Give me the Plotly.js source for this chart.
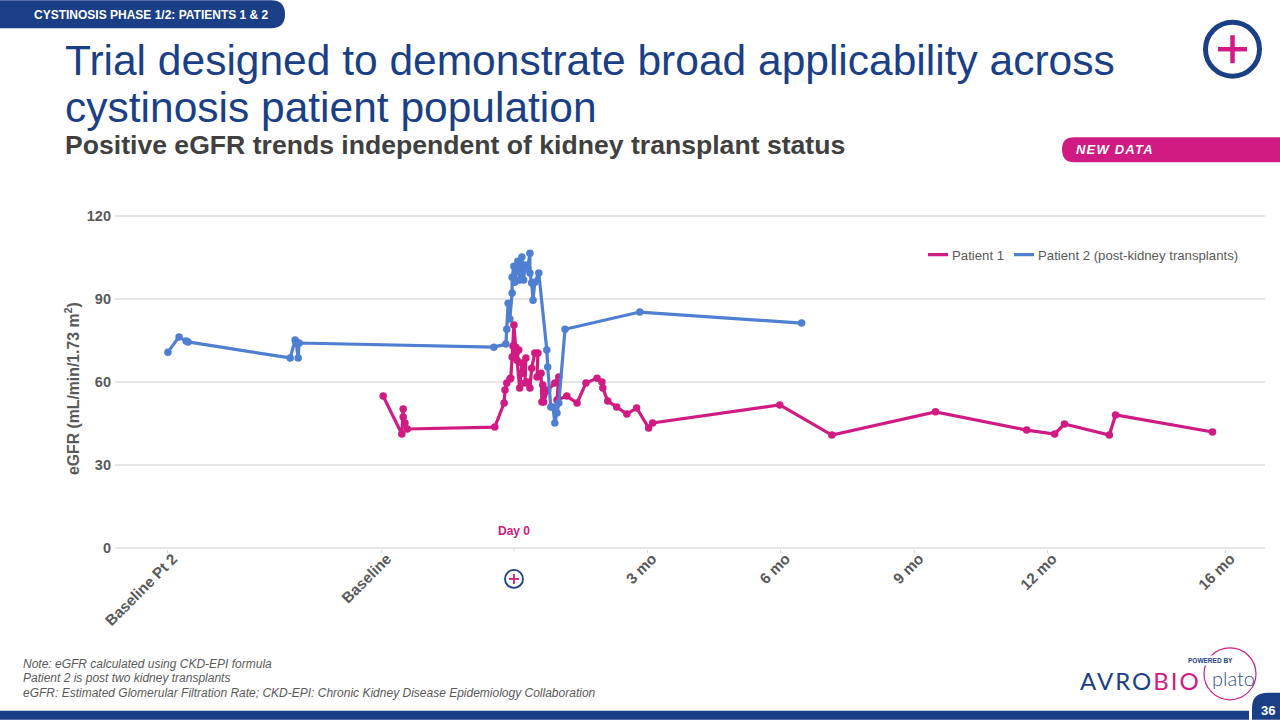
<!DOCTYPE html>
<html><head><meta charset="utf-8">
<script src="https://cdn.plot.ly/plotly-3.0.1.min.js"></script>
<style>html,body{margin:0;padding:0;background:#fff;overflow:hidden}#c{width:1280px;height:720px}</style>
</head><body><div id="c"></div>
<script>
const tickValues=[-7.78,-2.97,3,6,9,12,16];
const tickLabels=['Baseline Pt 2','Baseline','3 mo','6 mo','9 mo','12 mo','16 mo'];
const p1Months=[-2.94,-2.52,-2.49,-2.49,-2.45,-2.40,-0.43,-0.22,-0.20,-0.16,-0.09,-0.07,-0.04,-0.02,0,0.04,0.02,0.11,0.07,0.13,0.18,0.20,0.27,0.25,0.31,0.36,0.40,0.47,0.54,0.52,0.61,0.63,0.65,0.67,0.76,0.92,1.01,0.97,1.19,1.42,1.62,1.87,1.98,2.00,2.11,2.31,2.54,2.76,3.03,3.12,5.98,7.15,9.48,11.53,12.16,12.38,13.39,13.53,15.71];
const p1Egfr=[54.9,41.2,50.2,47.3,45.2,43.0,43.7,52.4,57.1,59.6,61.1,61.4,69,73,80.6,72.6,69,71.6,67.9,57.8,66.9,63.2,68.7,59.6,60,57.8,65,70.5,70.5,61.8,63.2,52.8,58.9,52.8,57.1,59.6,61.8,53.5,54.9,52.4,59.6,61.4,60,57.8,53.1,51,48.4,50.6,43.4,45.2,51.7,40.8,49.2,42.6,41.2,44.8,40.8,48.1,41.9];
const p2Months=[-7.78,-7.53,-7.37,-7.33,-5.03,-4.92,-4.90,-4.85,-4.83,-0.45,-0.18,-0.16,-0.13,-0.09,-0.04,-0.04,0,0.02,0.09,0.13,0.18,0.22,0.25,0.31,0.36,0.36,0.40,0.43,0.47,0.56,0.74,0.76,0.83,0.88,0.92,0.97,1.01,1.15,2.83,6.47];
const p2Egfr=[70.8,76.3,74.8,74.5,68.7,75.2,74.5,68.7,74.1,72.6,73.7,79.1,88.5,82.8,92.2,97.9,101.9,96.1,103.7,96.9,105.2,96.9,102.3,101.2,106.6,99.4,95.8,89.6,96.1,99.4,71.6,65.4,51,51,45.2,48.8,52.4,79.1,85.3,81.3];
const pink='#CF1B82',blue='#4F7FD0',navy='#1B3F86',grey='#595959',font='"Liberation Sans",Arial,sans-serif';
const L=115,T=214.9,W=1150,H=334.2;
const px=x=>(x-L)/W, py=y=>(T+H-y)/H;
function txt(text,x,y,size,color,o){return Object.assign({text,x:px(x),y:py(y),xref:'paper',yref:'paper',xanchor:'left',yanchor:'middle',showarrow:false,align:'left',font:{family:font,size,color}},o||{});}
function path(d,fill,line,w){
  const s=d.replace(/(-?[\d.]+),(-?[\d.]+)/g,(m,a,b)=>px(+a).toFixed(5)+','+py(+b).toFixed(5));
  return {type:'path',xref:'paper',yref:'paper',path:s,fillcolor:fill||'rgba(0,0,0,0)',line:{color:line||'rgba(0,0,0,0)',width:w||0},layer:'above'};
}
function circ(cx,cy,r,line,w,fill){return {type:'circle',xref:'paper',yref:'paper',x0:px(cx-r),x1:px(cx+r),y0:py(cy+r),y1:py(cy-r),line:{color:line,width:w},fillcolor:fill||'rgba(0,0,0,0)',layer:'above'};}
function seg(a,b,c,d,col,w){return {type:'line',xref:'paper',yref:'paper',x0:px(a),y0:py(b),x1:px(c),y1:py(d),line:{color:col,width:w},layer:'above'};}
const shapes=[
 path('M 0,0 L 271,0 Q 285,0 285,14 Q 285,28 271,28 L 0,28 Z',navy),
 path('M 1280,137 L 1074,137 Q 1062,137 1062,149 Q 1062,162 1074,162 L 1280,162 Z',pink),
 circ(1232.5,49,27,navy,5), seg(1218,49,1247,49,pink,4.5), seg(1232.5,35,1232.5,63,pink,4.5),
 circ(514,579,9,navy,1.8), seg(509,579,519,579,pink,1.8), seg(514,574,514,584,pink,1.8),
 seg(514,549,514,551.5,'#d9d9d9',1),
 path('M 0,711 L 1249,711 L 1249,720 L 0,720 Z',navy),
 path('M 1252,720 L 1252,708 Q 1252,693 1268,693 L 1280,693 L 1280,720 Z',navy),
 circ(1230,674,26,pink,1.2),
];
const annotations=[
 txt('CYSTINOSIS PHASE 1/2: PATIENTS 1 &amp; 2',32,14.5,12,'#fff',{font:{family:font,size:12,color:'#fff',weight:700}}),
 txt('cystinosis patient population',63,107,42.5,navy),
 txt('<b>Positive eGFR trends independent of kidney transplant status</b>',63,145,26.6,'#404040'),
 txt('<b><i><span style="letter-spacing:1.2px">NEW DATA</span></i></b>',1074,149,13,'#fff'),
 txt('<b>Day 0</b>',514,531,12,pink,{xanchor:'center'}),
 txt('<i>Note: eGFR calculated using CKD-EPI formula</i>',21,664,12,grey),
 txt('<i>Patient 2 is post two kidney transplants</i>',21,678.5,12,grey),
 txt('<i>eGFR: Estimated Glomerular Filtration Rate; CKD-EPI: Chronic Kidney Disease Epidemiology Collaboration</i>',21,693,12,grey),
 txt('<span style="letter-spacing:2px">AVRO<span style="color:#CF1B82">BIO</span></span>',1078,681,24,navy,{font:{family:'Lato,'+font,size:24,color:navy}}),
 txt('<b>POWERED BY</b>',1186,661,6.5,navy,{bgcolor:'#fff'}),
 txt('plato',1210,678,20,'#2c4f8f',{font:{family:'Lato,'+font,size:20,color:'#2c4f8f',weight:300}}),
 txt('<b>36</b>',1268,711,13,'#fff',{xanchor:'center'}),
];
const mk=(x,y,name,col,leg)=>[
 {x,y,name,legend:leg,type:'scatter',mode:'lines',line:{color:col,width:3.2},hoverinfo:'skip',cliponaxis:false},
 {x,y,name,legend:leg,type:'scatter',mode:'markers',marker:{color:col,size:7.5},showlegend:false,cliponaxis:false}
];
const data=[...mk(p1Months,p1Egfr,'Patient 1',pink,'legend'),...mk(p2Months,p2Egfr,'Patient 2 (post-kidney transplants)',blue,'legend2')];
const legendStyle=x=>({orientation:'h',x:px(x),y:py(255),xanchor:'left',yanchor:'middle',font:{family:font,size:13.2,color:grey},bgcolor:'rgba(0,0,0,0)',itemwidth:30});
const layout={
 width:1280,height:720,autosize:false,paper_bgcolor:'#fff',plot_bgcolor:'#fff',
 margin:{l:L,r:15,t:T,b:720-T-H},
 title:{text:'Trial designed to demonstrate broad applicability across',x:65/1280,xanchor:'left',xref:'container',y:1-60/720,yanchor:'middle',font:{family:font,size:42.5,color:navy}},
 xaxis:{range:[-8.97,16.89],tickmode:'array',tickvals:tickValues,ticktext:tickLabels,tickangle:-45,showgrid:false,zeroline:false,showline:false,ticks:'outside',ticklen:3,tickcolor:'#d9d9d9',tickwidth:1,ticklabelshift:5,ticklabelstandoff:-9,tickfont:{family:font,size:15.2,color:grey,weight:700}},
 yaxis:{range:[-0.4,120.4],tickmode:'array',tickvals:[0,30,60,90,120],ticktext:['0','30','60','90','120'],gridcolor:'#e6e6e6',gridwidth:1.5,zeroline:false,showline:false,ticks:'',ticklabelstandoff:3,tickfont:{family:font,size:14.5,color:grey,weight:700},
  title:{text:'eGFR (mL/min/1.73 m<sup>2</sup>)&nbsp;&nbsp;&nbsp;',standoff:3,font:{family:font,size:15.8,color:grey,weight:700}}},
 legend:legendStyle(912),legend2:legendStyle(998),
 shapes,annotations,showlegend:true
};
Plotly.newPlot('c',data,layout,{staticPlot:true,displayModeBar:false}).then(()=>{
 document.querySelectorAll('.legendlines path').forEach(p=>p.setAttribute('d','M16,0h20'));
});
</script></body></html>
